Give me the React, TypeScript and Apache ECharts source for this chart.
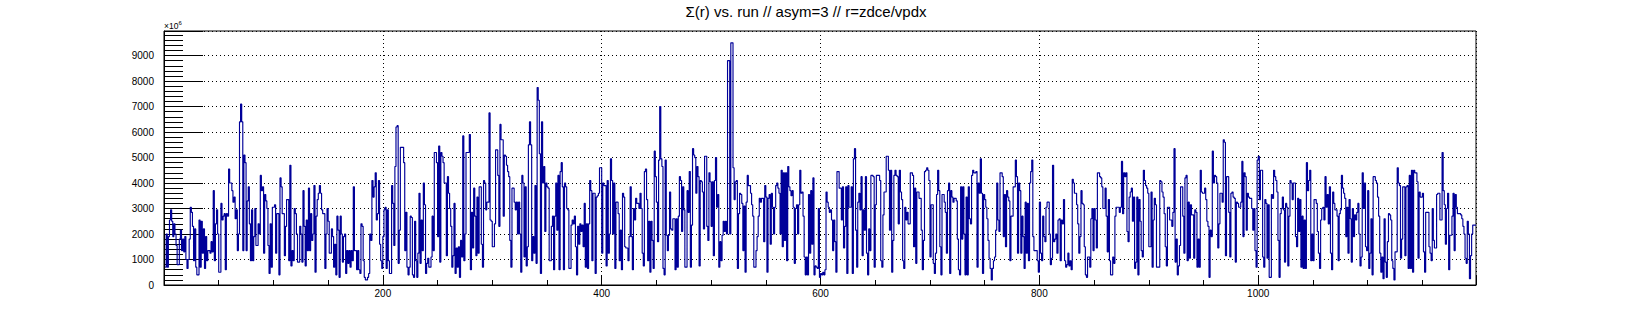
import React, { useEffect, useRef } from "react";
import * as echarts from "echarts";

// Σ(r) per run, in units of 10^9 (axis shows ×10^6, so label = value*1000)
const seg01 = [
  0.7, 2.0, 0.7, 1.9, 2.55, 2.95, 2.5, 1.9, 2.4, 2.0,
  1.55, 0.8, 0.8, 1.8, 2.15, 1.35, 1.8, 1.3, 1.9, 1.0,
  0.65, 1.0, 1.8, 3.05, 2.85, 2.3, 0.95, 2.2, 0.7, 0.4,
  0.4, 2.55, 0.7, 2.5, 1.25, 2.2, 0.65, 1.9, 0.95, 1.35,
  1.35, 1.25, 1.7, 1.3, 3.7, 0.95, 2.4, 2.95, 2.0, 0.5,
  0.5, 3.2, 2.55, 2.7, 2.8, 0.6, 2.8, 2.7, 4.55, 4.0,
  4.0, 3.7, 3.25, 3.45, 2.6, 2.95, 1.35, 2.0, 6.4, 7.1,
  6.4, 1.35, 5.1, 4.8, 1.35, 3.3, 3.85, 2.4, 0.95, 2.95,
  0.95, 1.9, 3.0, 1.55, 1.55, 2.4, 2.0, 4.3, 3.7, 3.85,
  1.25, 3.55, 3.3, 3.0, 1.55, 0.45, 2.4, 0.7, 3.05, 3.05,
  3.15, 1.25, 2.8, 2.8, 0.4, 4.2, 3.85, 2.8, 2.8,
];
const seg02 = [
  1.15, 2.3, 3.35, 3.35, 0.95, 4.7, 0.75, 1.35, 0.95, 3.0,
  2.8, 2.0, 0.9, 0.9, 2.3, 2.0, 0.9, 3.7, 2.3, 0.75,
  2.55, 1.35, 3.8, 1.35, 2.8, 1.75, 2.0, 3.9, 0.5, 2.7,
  3.35, 3.6, 3.9, 3.6, 2.95, 2.8, 2.8, 0.65, 2.0, 3.0,
  2.5, 1.25, 1.25, 2.2, 1.9, 0.7, 1.6, 0.4, 2.7, 2.15,
  0.3, 2.7, 2.0, 0.9, 1.9, 2.0, 0.45, 1.35, 0.85, 1.35,
  0.7, 1.35, 0.95, 3.85, 1.35, 1.35, 0.6, 1.35, 0.6, 0.45,
  2.4, 2.3, 0.95, 0.3, 0.2, 0.2, 0.3, 0.45, 2.0, 1.75,
  4.1, 3.45, 3.85, 4.4, 2.55, 2.8, 4.1, 1.6, 0.95, 0.65,
  1.9, 2.95, 3.05, 0.65, 2.95, 0.95, 0.45, 0.45, 3.9, 3.2,
];
const seg03 = [
  1.55, 4.65, 6.2, 6.25, 0.85, 2.15, 5.4, 5.4, 5.4, 4.8,
  1.35, 2.85, 0.7, 0.4, 0.7, 2.7, 2.65, 0.4, 0.3, 2.5,
  0.95, 0.3, 1.25, 3.6, 0.85, 2.55, 1.35, 4.0, 3.15, 0.45,
  0.85, 1.05, 0.7, 0.7, 1.1, 2.7, 1.35, 5.2, 5.2, 4.8,
  1.9, 5.45, 0.9, 5.2, 5.05, 4.8, 4.0, 4.0, 1.15, 4.25,
  3.6, 3.0, 2.3, 0.7, 1.15, 3.2, 0.45, 1.45, 0.7, 1.5,
  0.3, 1.75, 1.1, 5.85, 0.95, 2.0, 5.2, 5.2, 5.2, 5.9,
  0.6, 2.85, 1.45, 3.8, 2.7, 1.15, 3.45, 1.25, 3.85, 3.85,
  1.6, 0.7, 4.1, 4.0, 2.95, 3.25, 3.25, 6.75, 2.55, 2.5,
  1.5, 1.5, 2.4, 5.3, 5.3, 4.3, 2.3, 6.3, 5.7, 5.7,
  2.7, 5.1, 5.05, 4.7, 4.45, 4.25, 1.75, 0.7, 3.8, 3.8,
  3.25, 2.95, 3.25, 2.0,
];
const seg04 = [
  3.25, 2.0, 0.5, 4.3, 4.0, 1.1, 3.85, 0.75, 1.5, 5.5,
  6.4, 5.5, 0.95, 1.9, 1.25, 3.9, 0.85, 7.75, 7.25, 5.15,
  0.45, 6.4, 4.0, 4.65, 2.1, 4.0, 3.85, 3.8, 0.95, 0.95,
  2.3, 2.7, 0.6,
  2.7, 4.0, 2.15, 4.3, 0.6, 4.45, 4.8, 3.85, 0.6,
  4.0, 3.85, 3.0, 2.95, 0.65, 0.65, 2.35, 2.55, 2.4,
  2.7, 1.5, 0.4, 2.3, 1.6, 2.4, 2.1, 2.35, 1.5,
  3.2, 0.7, 2.4, 0.65, 2.4, 4.1, 3.7, 0.95, 3.6,
  3.6, 0.45, 3.45, 3.5, 3.6, 4.6, 4.6, 1.25, 4.0,
  3.9, 3.9, 0.75, 4.1, 1.25, 2.0, 4.95, 4.1, 2.0,
  4.0, 0.65, 3.25, 3.25, 2.8, 0.95, 2.15, 0.6, 3.6,
  3.45, 1.5, 1.45, 1.45, 0.95, 1.9, 3.85, 1.9, 0.6,
  3.0, 2.55, 3.4, 3.2, 3.2,
];
const seg05 = [
  3.0, 3.6, 3.0, 1.25, 0.75, 4.45, 4.55, 3.35, 0.95, 2.5,
  0.5, 2.5, 1.75, 0.65, 5.25, 4.25, 3.25, 1.7, 4.9, 7.0,
  4.95, 4.65, 0.65, 0.4, 4.9, 1.95, 1.35, 1.95, 3.65, 2.2,
  2.15, 2.6, 2.6,
  0.6, 2.6, 0.7, 2.7, 4.25, 4.1, 2.1, 3.85, 2.95,
  0.7, 0.7, 3.7, 2.85, 4.45, 0.7, 2.35, 5.35, 5.1,
  5.0, 3.6, 4.65, 4.25, 0.75, 4.1, 4.05, 3.65, 2.2,
  5.05, 5.05, 2.3, 1.75, 4.4, 4.05, 2.3, 4.05, 1.15,
  4.1, 5.0, 3.05, 3.55, 0.7, 1.7, 0.95, 1.95, 2.5,
  2.1, 2.5, 2.0, 8.8, 8.8, 2.0, 9.5, 9.5, 4.6,
  3.35, 4.05, 4.1, 0.65, 2.8, 3.6, 3.55, 3.2, 1.35,
  3.1, 0.5, 3.25, 4.3, 3.9, 3.9, 3.6, 3.15, 2.7,
  0.7, 0.7, 1.35, 1.9, 2.7, 3.4, 3.25,
];
const seg06 = [
  3.4, 3.4, 1.7, 3.9, 3.45, 0.5, 3.4, 3.55, 1.6,
  3.6, 3.05, 2.0, 3.05, 3.9, 4.0, 3.8, 3.6, 2.0,
  4.5, 1.5, 4.4, 1.75, 4.4, 0.95, 4.65, 3.85, 3.7,
  3.5, 3.7, 3.05, 0.85, 3.0, 3.15, 2.0, 3.15, 4.5,
  3.6, 3.65, 2.7, 1.1, 0.4, 1.1, 0.4, 3.55, 1.25,
  3.7, 1.6, 4.2, 0.4, 0.75, 0.7, 0.65, 3.0, 0.3,
  0.45, 0.4, 0.5, 0.4, 0.6, 3.65, 3.25, 3.05, 2.85,
  2.95, 2.55, 1.35, 2.55, 1.7, 0.5, 4.45, 4.45, 3.8,
  3.8, 2.55, 3.85, 1.45, 2.3, 3.85, 0.45, 3.9, 3.05,
  3.05, 3.85, 0.45, 4.95, 5.35, 2.15, 0.7, 3.25, 3.6,
  2.95, 4.25, 1.15, 2.95, 2.15, 4.25, 1.25, 0.4, 2.2,
  1.35, 4.3, 4.3, 4.25, 0.7, 3.15, 4.3, 4.3,
];
const seg07 = [
  4.3, 4.1, 0.95, 0.7, 2.75, 3.65, 3.65, 5.05, 5.05,
  4.5, 2.15, 4.5, 0.5, 1.75, 4.3, 4.5, 4.3, 4.25,
  2.4, 4.5, 3.65, 3.35, 0.95, 0.65, 3.05, 2.55, 2.85,
  2.4, 2.4, 4.4, 4.4, 4.3, 1.5, 3.8, 0.85, 3.65,
  3.65, 3.4, 3.4, 2.15, 0.6, 1.75, 4.45, 4.5, 4.6,
  4.5, 4.1, 1.1, 3.15, 3.15, 0.85, 0.45, 1.25, 3.55,
  4.5, 3.7, 1.5, 0.4, 3.55, 3.55, 3.25, 2.85, 1.25,
  3.7, 4.0, 0.45, 3.7, 3.45, 3.25, 3.4, 3.4, 3.3,
  1.8, 0.6, 0.4, 3.85, 1.8, 3.85, 2.0, 0.4, 3.45,
  0.4, 3.85, 2.6, 2.4, 4.3, 4.5, 4.4, 4.4, 4.45,
  0.7, 4.0, 3.6, 4.95, 3.6, 0.45, 3.55, 3.35, 3.05,
  2.6, 1.75, 1.05, 0.65, 0.2, 0.65, 0.95, 1.1, 2.15,
  4.0, 2.55,
];
const seg08 = [
  2.1, 4.4, 4.4, 4.25, 1.9, 3.55, 1.5, 3.7, 3.45,
  3.3, 0.95, 2.7, 2.7, 3.85, 3.85, 4.9, 4.25, 1.25,
  4.0, 3.7, 1.25, 2.7, 1.9, 0.65, 3.25, 1.25, 3.2,
  0.95, 4.0, 4.45, 4.9, 1.9, 1.35, 1.35, 1.35, 0.95,
  0.5, 3.25, 1.25, 0.95, 2.7, 1.9, 1.7, 3.05, 3.25,
  3.25, 2.0, 0.8, 1.05, 4.7, 1.7, 1.8, 2.0, 1.25,
  2.55, 2.6, 0.95, 2.55, 2.4, 3.35, 0.95, 0.7, 0.8,
  1.25, 0.75, 0.95, 0.6, 4.15, 4.0, 3.6, 3.6, 3.15,
  2.4, 1.25, 1.9, 3.7, 3.2, 3.15, 1.5, 0.4, 0.3,
  1.1, 1.1, 0.7, 2.6, 3.0, 1.35, 3.0, 2.55, 1.45,
  4.4, 4.4, 4.25, 4.2, 3.85, 3.0, 3.0, 3.8, 2.7,
  1.3, 3.35, 0.95, 0.4, 0.4, 1.1, 0.85, 2.7, 3.05,
  3.05, 3.05,
];
const seg09 = [
  2.85, 3.05, 4.85, 2.8, 4.4, 4.25, 4.4, 2.1, 1.7,
  3.45, 3.65, 3.8, 2.5, 3.45, 0.65, 0.9, 3.45, 0.4,
  3.35, 2.5, 1.35, 1.1, 4.5, 4.1, 3.9, 3.8, 3.6,
  1.5, 1.5, 3.65, 0.7, 2.55, 3.4, 3.15, 0.7, 0.7,
  0.7, 4.1, 4.05, 3.65, 3.45, 2.8, 1.5, 0.75, 3.05,
  3.05, 2.55, 2.55, 2.3, 2.85, 5.35, 0.9, 1.8, 0.4,
  0.75, 1.55, 3.85, 3.85, 2.7, 1.25, 4.2, 4.3, 0.95,
  3.25, 1.05, 3.15, 2.75, 2.75, 1.05, 2.95, 2.85, 0.7,
  1.8, 0.7, 4.5, 3.65, 3.6, 3.6, 3.8, 3.35, 2.5,
  2.3, 0.3, 2.15, 1.9, 5.25, 4.0, 4.3, 4.25, 4.0,
  1.45, 2.4, 3.6, 3.6, 3.25, 5.7, 5.6, 1.15, 4.25,
  4.25, 2.85, 1.1, 3.6, 3.65, 3.45, 3.4, 0.9, 3.25,
  3.2, 3.05,
];
const seg10 = [
  3.05, 3.25, 4.85, 1.9, 4.4, 4.25, 2.15, 3.6, 3.45,
  3.4, 3.4, 3.0, 2.15, 3.0, 1.35, 0.7, 4.9, 5.05,
  3.35, 4.5, 4.5, 1.1, 0.7, 3.35, 3.2, 1.05, 3.15,
  0.3, 0.3, 3.55, 3.4, 4.5, 4.25, 4.1, 3.65, 1.75,
  0.3, 2.8, 3.0, 3.45, 2.95, 0.9, 3.2, 3.05, 0.75,
  2.7, 4.1, 4.0, 3.35, 4.0, 4.0, 1.9, 1.5, 3.4,
  2.1, 3.35, 0.7, 2.7, 0.65, 2.55, 0.65, 4.8, 3.7,
  4.1, 4.5, 0.95, 2.0, 0.95, 3.35, 3.35, 3.2, 2.1,
  1.25, 0.65, 2.55, 3.0, 3.05, 2.55, 4.25, 3.05, 3.55,
  2.4, 3.85, 1.25, 0.6, 3.65, 3.2, 2.95, 2.95, 2.7,
  0.95, 2.8, 2.95, 4.3, 3.8, 3.6, 3.4, 1.9, 3.05,
  1.25, 3.35, 2.6, 0.9, 3.0, 1.9, 2.75, 2.55, 2.85,
  3.2, 2.0,
];
const seg11 = [
  0.75, 1.1,
  4.4, 3.0, 4.0, 1.5, 1.35, 3.7, 0.65, 1.25, 2.6,
  0.4, 4.25, 4.25, 4.1, 4.0, 3.45, 2.7, 1.25, 0.5,
  1.1, 0.25, 2.6, 0.9, 0.3, 1.7, 2.8, 2.75, 2.55,
  0.95, 0.65, 0.2, 1.3, 1.3, 4.6, 4.0, 3.9, 1.05,
  1.8, 3.85, 3.85, 1.15, 3.85, 3.9, 0.65, 4.3, 0.65,
  4.5, 0.5, 4.5, 4.4, 4.4, 4.05, 1.05, 3.65, 3.45,
  3.45, 3.6, 1.3, 0.5, 2.85, 2.85, 2.85, 1.5, 1.25,
  0.95, 3.0, 1.75, 1.45, 1.45, 3.55, 3.6, 3.6, 2.55,
  2.55, 5.2, 3.7, 3.15, 1.6, 3.0, 3.6, 0.6, 1.95,
  1.95, 2.7, 3.6, 1.35, 3.55, 3.05, 2.8, 2.8, 2.8,
  2.75, 2.6, 2.3, 2.0, 1.05, 0.85, 2.5, 2.0, 0.25,
  1.15, 2.0, 2.35, 2.35, 2.35,
];

const SEGMENTS = [seg01, seg02, seg03, seg04, seg05, seg06, seg07, seg08, seg09, seg10, seg11];
const SEG_START_RUN = [1, 110, 210, 324, 434, 546, 653, 763, 873, 983, 1093];

const X_MIN = 0;
const X_MAX = 1199;
const Y_MAX = 9965;
const TITLE = "Σ(r) vs. run // asym=3 // r=zdce/vpdx";
const FONT = "Liberation Sans, Arial, Helvetica, sans-serif";
const LINE_COLOR = "#000099";

function buildData(): [number, number][] {
  const m = new Map<number, number>();
  SEGMENTS.forEach((seg, k) => {
    seg.forEach((v, i) => m.set(SEG_START_RUN[k] + i, v * 1000));
  });
  const runs = Array.from(m.keys()).sort((a, b) => a - b);
  const pts: [number, number][] = runs.map((r) => [r, m.get(r) as number]);
  const last = pts[pts.length - 1];
  pts.push([last[0] + 1, last[1]]);
  return pts;
}

export default function App() {
  const ref = useRef<HTMLDivElement>(null);
  useEffect(() => {
    if (!ref.current) return;
    const chart = echarts.init(ref.current, undefined, { renderer: "svg" });
    const data = buildData();
    chart.setOption({
      animation: false,
      backgroundColor: "#ffffff",
      grid: {
        left: 164,
        right: 164,
        top: 31,
        bottom: 32,
        show: true,
        borderColor: "#000",
        borderWidth: 1,
        backgroundColor: "transparent",
      },
      graphic: [
        {
          type: "text",
          style: {
            text: TITLE,
            x: 806,
            y: 11,
            fill: "#000",
            font: `15px ${FONT}`,
            textAlign: "center",
            textVerticalAlign: "middle",
          },
        },
        {
          type: "text",
          style: {
            x: 164,
            y: 31,
            text: "×10{s|6}",
            fill: "#000",
            font: `8.5px ${FONT}`,
            textVerticalAlign: "bottom",
            rich: {
              s: { fontSize: 6, fontFamily: FONT, verticalAlign: "top", padding: [0, 0, 5, 0] },
            },
          } as any,
        },
      ],
      xAxis: {
        type: "value",
        min: X_MIN,
        max: X_MAX,
        interval: 200,
        axisLine: { show: true, lineStyle: { color: "#000", width: 1 } },
        axisTick: { show: true, inside: true, length: 9, lineStyle: { color: "#000" } },
        minorTick: { show: true, splitNumber: 4, length: 5, lineStyle: { color: "#000" } },
        splitLine: { show: true, lineStyle: { color: "#000", width: 1, type: [1, 3] } },
        axisLabel: {
          show: true,
          showMinLabel: false,
          showMaxLabel: false,
          color: "#000",
          fontSize: 10,
          fontFamily: FONT,
          margin: 3,
          formatter: (v: number) => String(v),
        },
      },
      yAxis: {
        type: "value",
        min: 0,
        max: Y_MAX,
        interval: 1000,
        axisLine: { show: true, lineStyle: { color: "#000", width: 1 } },
        axisTick: { show: true, inside: true, length: 39, lineStyle: { color: "#000" } },
        minorTick: { show: true, splitNumber: 5, length: 19, lineStyle: { color: "#000" } },
        splitLine: { show: true, lineStyle: { color: "#000", width: 1, type: [1, 3] } },
        axisLabel: {
          show: true,
          showMaxLabel: false,
          color: "#000",
          fontSize: 10,
          fontFamily: FONT,
          margin: 10,
          formatter: (v: number) => String(v),
        },
      },
      series: [
        {
          type: "line",
          data,
          step: "end",
          symbol: "none",
          showSymbol: false,
          silent: true,
          clip: true,
          lineStyle: { color: LINE_COLOR, width: 1.15 },
        },
      ],
    });
    return () => chart.dispose();
  }, []);
  return (
    <div
      ref={ref}
      style={{ position: "absolute", left: 0, top: 0, width: 1640, height: 317, background: "#fff" }}
    />
  );
}
